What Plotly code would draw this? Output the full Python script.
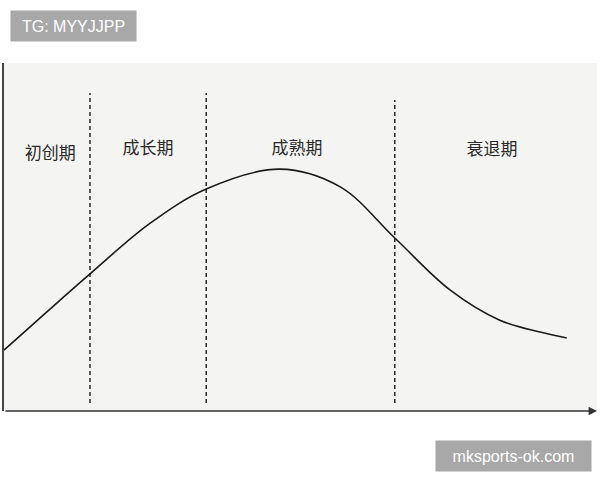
import plotly.graph_objects as go

# product life cycle curve (arbitrary units, 0-100)
time = [0, 6.9, 14.7, 24.6, 34.1, 46.5, 56.7, 65.9, 75.2, 83.6, 90.4, 94.9]
sales = [17.5, 28.0, 39.7, 53.9, 63.8, 69.5, 64.4, 49.7, 34.8, 26.1, 22.7, 21.0]

stage_bounds = [14.5, 34.1, 65.9]
stage_tops = [91.4, 91.4, 89.4]
stage_names = ['初创期', '成长期', '成熟期', '衰退期']
stage_label_x = [7.8, 24.3, 49.4, 82.3]
stage_label_y = [73.6, 75.0, 75.0, 74.7]

W, H = 600, 480
L, R, T, B = 4, 3, 63, 69


def px(x):
    return (x - L) / (W - L - R)


def py(y):
    return (H - B - y) / (H - T - B)


fig = go.Figure()

fig.add_trace(go.Scatter(
    x=time, y=sales, mode='lines',
    line=dict(color='#1a1a1a', width=1.6, shape='spline', smoothing=1.0),
    hoverinfo='skip'))

for xb, top in zip(stage_bounds, stage_tops):
    fig.add_trace(go.Scatter(
        x=[xb, xb], y=[2.3, top], mode='lines',
        line=dict(color='#1a1a1a', width=1.4, dash='4px,3px'),
        hoverinfo='skip'))

fig.add_trace(go.Scatter(
    x=stage_label_x, y=stage_label_y, mode='text', text=stage_names,
    textfont=dict(family='Noto Sans CJK SC', size=17, color='#2a2a2a'),
    hoverinfo='skip'))

# x axis arrow
fig.add_annotation(x=100, y=0, ax=0, ay=0, xref='x', yref='y', axref='x', ayref='y',
                   showarrow=True, arrowhead=2, arrowsize=1.2, arrowwidth=1.4,
                   arrowcolor='#333333', text='')

# watermarks
fig.add_annotation(xref='paper', yref='paper', x=px(10), y=py(10),
                   xanchor='left', yanchor='top', showarrow=False,
                   text='TG: MYYJJPP', width=125, height=30, borderpad=0,
                   bgcolor='#a8a8a8',
                   font=dict(family='Liberation Sans', size=16, color='white'))
fig.add_annotation(xref='paper', yref='paper', x=px(435), y=py(440),
                   xanchor='left', yanchor='top', showarrow=False,
                   text='mksports-ok.com', width=155, height=30, borderpad=0,
                   bgcolor='#a8a8a8',
                   font=dict(family='Liberation Sans', size=16, color='white'))

fig.update_layout(
    width=W, height=H,
    margin=dict(l=L, r=R, t=T, b=B),
    paper_bgcolor='white',
    plot_bgcolor='#f4f5f3',
    showlegend=False,
    xaxis=dict(range=[0, 100], showgrid=False, zeroline=False, showticklabels=False,
               showline=False, fixedrange=True),
    yaxis=dict(range=[0, 100], showgrid=False, zeroline=False, showticklabels=False,
               showline=True, linecolor='#444444', linewidth=1.5, mirror=False,
               fixedrange=True),
)

fig.write_html("out.html", config={'displayModeBar': False},
               post_script="document.body.style.margin='0';")
